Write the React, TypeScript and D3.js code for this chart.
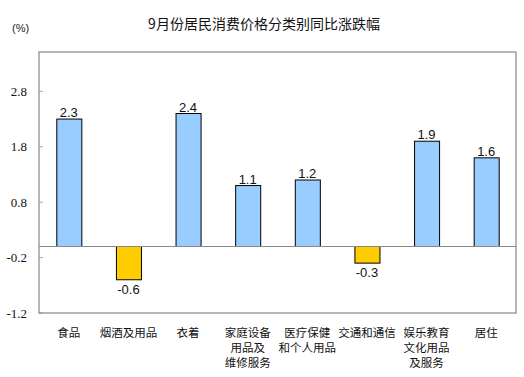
import React from "react";
import * as d3 from "d3";

const categories: string[][] = [
  ["食品"],
  ["烟酒及用品"],
  ["衣着"],
  ["家庭设备", "用品及", "维修服务"],
  ["医疗保健", "和个人用品"],
  ["交通和通信"],
  ["娱乐教育", "文化用品", "及服务"],
  ["居住"],
];
const values: number[] = [2.3, -0.6, 2.4, 1.1, 1.2, -0.3, 1.9, 1.6];
const tickValues: number[] = [-1.2, -0.2, 0.8, 1.8, 2.8];
const title = "9月份居民消费价格分类别同比涨跌幅";

const W = 524;
const H = 377;
const left = 39;
const right = 516;
const top = 52;
const bottom = 313;

export default function App() {
  const x = d3
    .scaleBand<number>()
    .domain(d3.range(values.length))
    .range([left, right])
    .paddingInner(0.58)
    .paddingOuter(0.29);
  const y = d3.scaleLinear().domain([-1.2, 3.51]).range([bottom, top]);
  const cjk = "'Noto Sans CJK SC', 'Noto Sans', sans-serif";
  return (
    <svg
      width={W}
      height={H}
      style={{ position: "absolute", left: 0, top: 0, background: "#fff" }}
    >
      <rect x={0} y={0} width={W} height={H} fill="#fff" />
      <text
        x={264}
        y={29}
        textAnchor="middle"
        fontFamily={cjk}
        fontSize={14}
        fill="#111"
      >
        {title}
      </text>
      <text x={12} y={32} fontFamily="'Liberation Sans', Arial, sans-serif" fontSize={11} fill="#222">
        (%)
      </text>
      {tickValues.map((t) => (
        <g key={t}>
          <line x1={left} x2={left + 4} y1={y(t)} y2={y(t)} stroke="#aaa" />
          <text
            x={27}
            y={y(t) + 4.5}
            textAnchor="end"
            fontFamily="'Liberation Serif', 'Times New Roman', serif"
            fontSize={13}
            fill="#111"
          >
            {t.toFixed(1)}
          </text>
        </g>
      ))}
      {values.map((v, i) => {
        const x0 = x(i)!;
        const bw = x.bandwidth();
        const y0 = Math.min(y(v), y(0));
        const h = Math.abs(y(v) - y(0));
        return (
          <g key={i}>
            <rect
              x={x0 + 0.5}
              y={y0}
              width={bw}
              height={h}
              fill={v >= 0 ? "#99CCFF" : "#FFCC00"}
              stroke="#000"
              strokeWidth={1}
            />
            <text
              x={x0 + bw / 2}
              y={v >= 0 ? y(v) - 2 : y(v) + 14}
              textAnchor="middle"
              fontFamily="'Liberation Sans', Arial, sans-serif"
              fontSize={13}
              fill="#111"
            >
              {v.toFixed(1)}
            </text>
          </g>
        );
      })}
      <line x1={left} x2={right} y1={y(0)} y2={y(0)} stroke="#888" strokeWidth={1} />
      <rect
        x={left}
        y={top}
        width={right - left}
        height={bottom - top}
        fill="none"
        stroke="#888"
        strokeWidth={1.2}
      />
      {categories.map((lines, i) => (
        <text
          key={i}
          textAnchor="middle"
          fontFamily={cjk}
          fontSize={11.5}
          fill="#111"
        >
          {lines.map((ln, j) => (
            <tspan key={j} x={x(i)! + x.bandwidth() / 2} y={337 + j * 15}>
              {ln}
            </tspan>
          ))}
        </text>
      ))}
    </svg>
  );
}
